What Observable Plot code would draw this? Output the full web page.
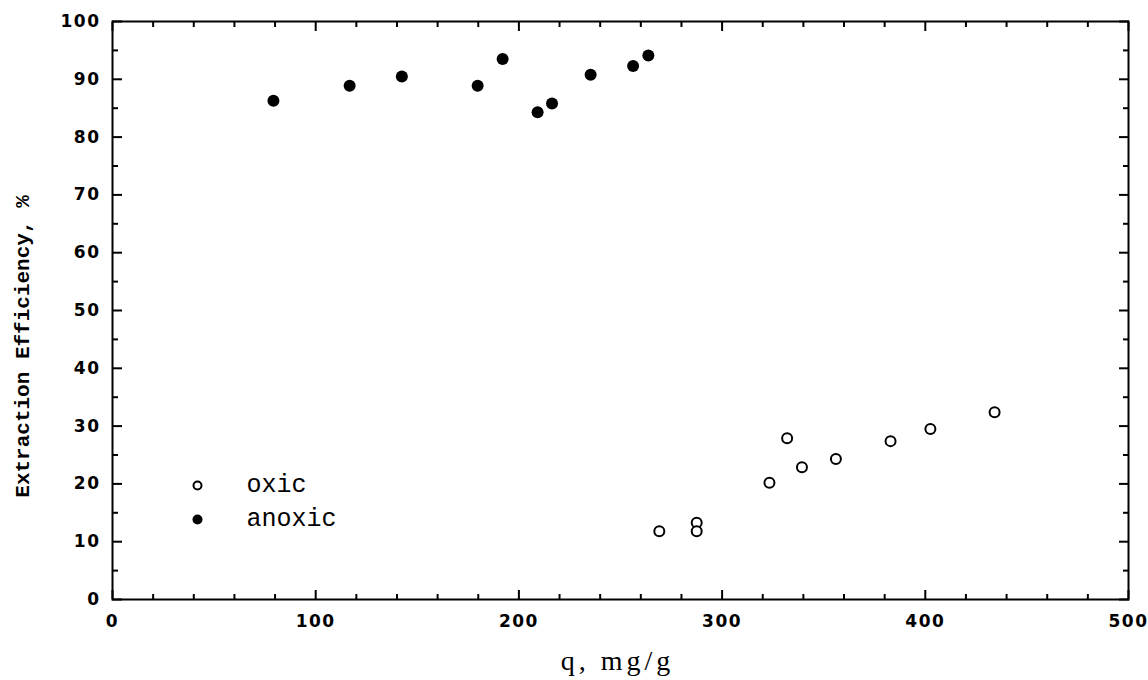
<!DOCTYPE html>
<html>
<head>
<meta charset="utf-8">
<script src="https://cdn.jsdelivr.net/npm/d3@7"></script>
<script src="https://cdn.jsdelivr.net/npm/@observablehq/plot@0.6"></script>
<style>
  html, body { margin: 0; padding: 0; background: #fff; }
  #chart svg { display: block; }
  g[aria-label="x-axis tick label"],
  g[aria-label="y-axis tick label"] { font-size: 17px; font-weight: bold; font-family: "DejaVu Sans"; }
  g[aria-label="x-axis tick label"] text,
  g[aria-label="y-axis tick label"] text { letter-spacing: 1.5px; }
</style>
</head>
<body>
<div id="chart"></div>
<script>
// ---- data ----
const seriesNames = ["oxic", "anoxic"];
const qAnoxic   = [79.2, 116.7, 142.4, 179.7, 192.0, 209.2, 216.3, 235.3, 256.2, 263.7];
const effAnoxic = [86.3, 88.9, 90.5, 88.9, 93.5, 84.3, 85.8, 90.8, 92.3, 94.1];
const qOxic   = [269.1, 287.5, 287.5, 323.3, 332.0, 339.3, 356.0, 382.9, 402.5, 434.1];
const effOxic = [11.8, 13.3, 11.8, 20.2, 27.9, 22.9, 24.3, 27.4, 29.5, 32.4];
const xTicks = [0, 100, 200, 300, 400, 500];
const xMinorTicks = [20, 40, 60, 80, 120, 140, 160, 180, 220, 240, 260, 280, 320, 340, 360, 380, 420, 440, 460, 480];
const yTicks = [0, 10, 20, 30, 40, 50, 60, 70, 80, 90, 100];
const yMinorTicks = [5, 15, 25, 35, 45, 55, 65, 75, 85, 95];
const xTitle = ["q, mg/g"];
const yTitle = ["Extraction Efficiency, %"];

const anoxic = qAnoxic.map((q, i) => ({q, e: effAnoxic[i]}));
const oxic = qOxic.map((q, i) => ({q, e: effOxic[i]}));

const noLabel = () => "";

const chart = Plot.plot({
  width: 1148,
  height: 680,
  marginLeft: 112,
  marginRight: 20,
  marginTop: 21,
  marginBottom: 81,
  style: {background: "#fff", color: "#000", fontFamily: "DejaVu Sans"},
  x: {domain: [0, 500]},
  y: {domain: [0, 100]},
  marks: [
    Plot.frame({stroke: "#000", strokeWidth: 2}),
    // major ticks (inward)
    Plot.axisX(xTicks, {anchor: "bottom", tickSize: -9, tickPadding: 24, strokeWidth: 2, label: null, tickFormat: d => d, fontSize: 17, fontWeight: "bold"}),
    Plot.axisX(xTicks, {anchor: "top", tickSize: -9, strokeWidth: 2, label: null, tickFormat: noLabel}),
    Plot.axisY(yTicks, {anchor: "left", tickSize: -10, tickPadding: 22, strokeWidth: 2, label: null, tickFormat: d => d, fontSize: 17, fontWeight: "bold"}),
    Plot.axisY(yTicks, {anchor: "right", tickSize: -10, strokeWidth: 2, label: null, tickFormat: noLabel}),
    // minor ticks
    Plot.axisX(xMinorTicks, {anchor: "bottom", tickSize: -5, strokeWidth: 2, label: null, tickFormat: noLabel}),
    Plot.axisX(xMinorTicks, {anchor: "top", tickSize: -5, strokeWidth: 2, label: null, tickFormat: noLabel}),
    Plot.axisY(yMinorTicks, {anchor: "left", tickSize: -6, strokeWidth: 2, label: null, tickFormat: noLabel}),
    Plot.axisY(yMinorTicks, {anchor: "right", tickSize: -6, strokeWidth: 2, label: null, tickFormat: noLabel}),
    // data
    Plot.dot(anoxic, {x: "q", y: "e", r: 6, fill: "#000", stroke: "none"}),
    Plot.dot(oxic, {x: "q", y: "e", r: 5, fill: "#fff", stroke: "#000", strokeWidth: 2}),
    // legend
    Plot.dot([seriesNames[0]], {frameAnchor: "bottom-left", dx: 85, dy: -114, r: 4, fill: "#fff", stroke: "#000", strokeWidth: 2}),
    Plot.dot([seriesNames[1]], {frameAnchor: "bottom-left", dx: 85, dy: -80, r: 5, fill: "#000", stroke: "none"}),
    Plot.text([seriesNames[0]], {frameAnchor: "bottom-left", text: d => d, dx: 134, dy: -108, textAnchor: "start", fontFamily: "Liberation Mono", fontSize: 25, fill: "#000"}),
    Plot.text([seriesNames[1]], {frameAnchor: "bottom-left", text: d => d, dx: 134, dy: -74, textAnchor: "start", fontFamily: "Liberation Mono", fontSize: 25, fill: "#000"}),
    // axis titles
    Plot.text(xTitle, {frameAnchor: "bottom", text: d => d, dx: -3, dy: 70, textAnchor: "middle", fontFamily: "Liberation Serif", fontSize: 28, fill: "#000"}),
    Plot.text(yTitle, {frameAnchor: "left", text: d => d, dx: -90, dy: 36, rotate: -90, textAnchor: "middle", fontFamily: "Liberation Mono", fontWeight: "bold", fontSize: 21, fill: "#000"})
  ]
});
document.getElementById("chart").appendChild(chart);
d3.select(chart).selectAll("text")
  .filter(function () { return this.textContent === xTitle[0]; })
  .attr("letter-spacing", 4);
</script>
</body>
</html>
